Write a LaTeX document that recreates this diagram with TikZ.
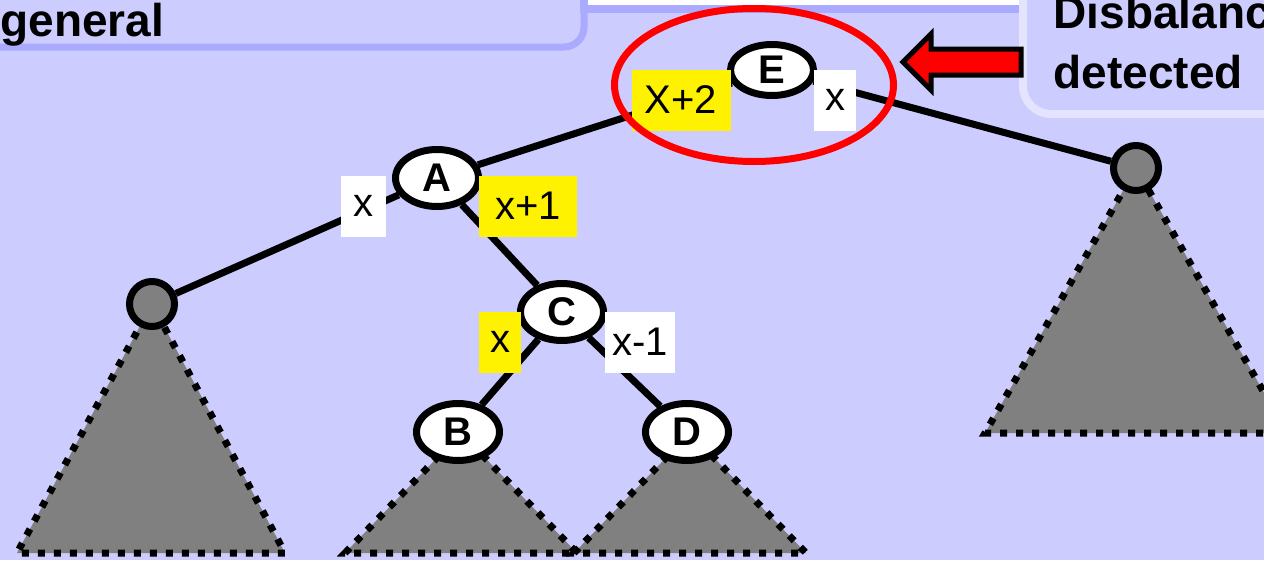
\documentclass[tikz,border=0pt]{standalone}
\usepackage{fontspec}
\setmainfont{Liberation Sans}
\usetikzlibrary{shapes.geometric}
\definecolor{slidebg}{HTML}{CCCCFF}
\definecolor{boxedge}{HTML}{AAAAFF}
\definecolor{paleedge}{HTML}{E4E4FF}
\definecolor{treegray}{HTML}{808080}
\tikzset{
  tnode/.style={ellipse,draw=black,fill=white,line width=7pt,inner sep=0pt,
    minimum width=83pt,minimum height=57pt,font=\fontsize{40}{40}\selectfont\bfseries},
  leaf/.style={circle,draw=black,fill=treegray,line width=7pt,inner sep=0pt,minimum size=45pt},
  edge/.style={line width=7pt},
  subtree/.style={fill=treegray,draw=black,line width=7pt,dash pattern=on 7pt off 9pt},
  hilite/.style={fill=yellow,inner sep=0pt,minimum height=61pt,font=\fontsize{40}{40}\selectfont},
  plainlbl/.style={fill=white,inner sep=0pt,minimum height=61pt,font=\fontsize{40}{40}\selectfont},
  bigtext/.style={font=\fontsize{46}{60}\selectfont\bfseries}
}
\begin{document}
\begin{tikzpicture}[x=1pt,y=-1pt]
    \clip (0,0) rectangle (1264,560);
    \fill[slidebg] (0,0) rectangle (1264,560);
    % slide boxes
    \draw[boxedge,line width=7pt,fill=slidebg,rounded corners=20pt] (-40,-40) rectangle (584,47);
    \node[bigtext,anchor=base west] (title) at (-3,36) {general};
    \draw[boxedge,line width=8pt,fill=white] (584,-40) rectangle (1040,9);
    \draw[paleedge,line width=8pt,fill=slidebg,rounded corners=28pt] (1023,-40) rectangle (1300,114);
    \node[bigtext,anchor=base west,align=left] (note) at (1050,88) {Disbalance\\detected};
    % subtrees
    \draw[subtree] (152,304) -- ++(-135,249) -- ++(268,0) -- cycle;
    \draw[subtree] (1136,168) -- ++(-151,265) -- ++(302,0) -- cycle;
    \draw[subtree] (461,433) -- ++(-116,120) -- ++(232,0) -- cycle;
    \draw[subtree] (690,433) -- ++(-116,120) -- ++(232,0) -- cycle;
    % nodes
    \node[tnode,minimum height=51pt] (E) at (772,70) {E};
    \node[tnode] (A) at (437,178) {A};
    \node[tnode] (C) at (562,312) {C};
    \node[tnode] (B) at (458,432) {B};
    \node[tnode] (D) at (687,432) {D};
    \node[leaf] (lleaf) at (152,304) {};
    \node[leaf] (rleaf) at (1136,168) {};
    % edges
    \draw[edge] (E) -- (A);
    \draw[edge] (E) -- (rleaf);
    \draw[edge] (A) -- (lleaf);
    \draw[edge] (A) -- (C);
    \draw[edge] (C) -- (B);
    \draw[edge] (C) -- (D);
    % heights
    \node[hilite,minimum width=99pt] (hEl) at (681,100) {X+2};
    \node[plainlbl,minimum width=42pt] (hEr) at (835,100) {x};
    \node[plainlbl,minimum width=45pt] (hAl) at (363,206) {x};
    \node[hilite,minimum width=98pt] (hAr) at (528,206) {x+1};
    \node[hilite,minimum width=42pt] (hCl) at (500,342) {x};
    \node[plainlbl,minimum width=70pt] (hCr) at (640,342) {x-1};
    % disbalance mark
    \draw[red,line width=7pt] (754,85) ellipse [x radius=139.5, y radius=76.5];
    \draw[fill=red,line width=5pt] (903,62) -- (931,34) -- (931,49) -- (1021,49)
      -- (1021,75) -- (931,75) -- (931,90) -- cycle;
\end{tikzpicture}
\end{document}
